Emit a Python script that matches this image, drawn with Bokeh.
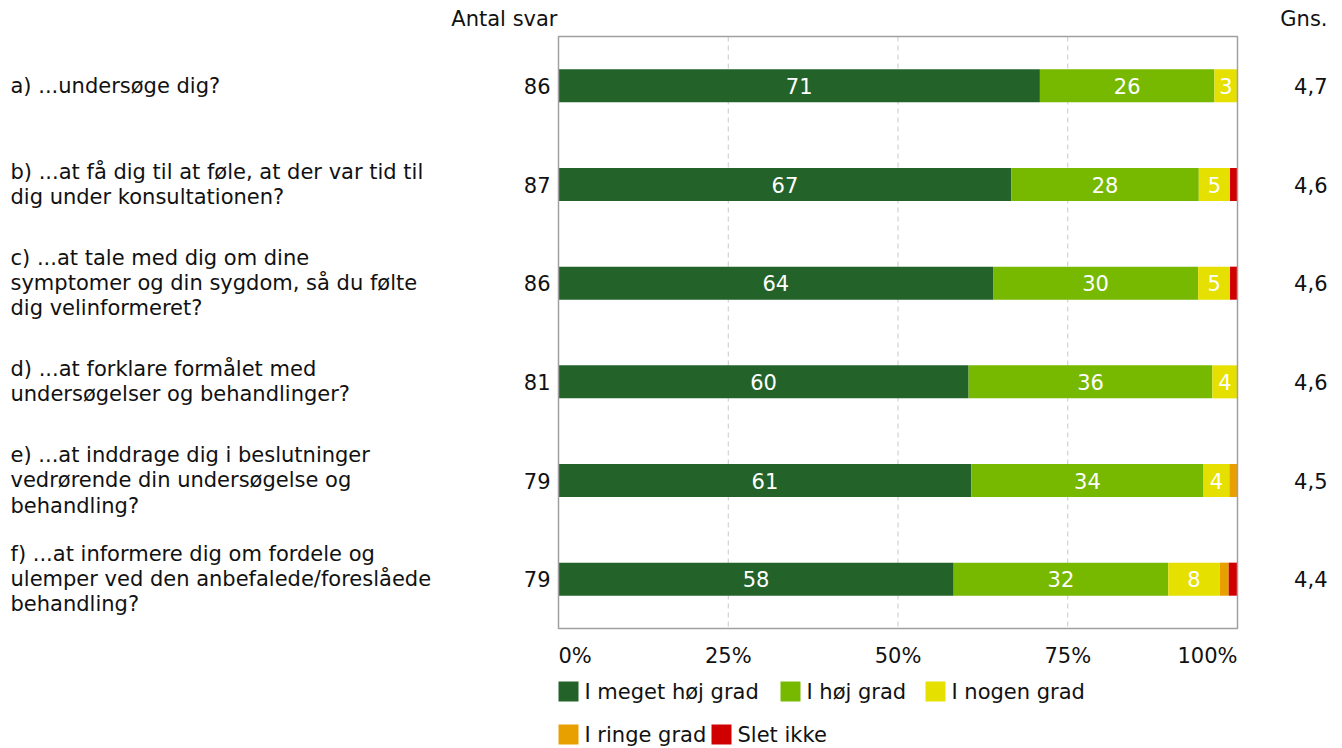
import numpy as np
from bokeh.plotting import figure
from bokeh.models import ColumnDataSource, Range1d
from bokeh.core.properties import value
from bokeh.embed import file_html
from bokeh.resources import INLINE

# ---------------- data ----------------
questions = [
    "a) ...undersøge dig?",
    "b) ...at få dig til at føle, at der var tid til\ndig under konsultationen?",
    "c) ...at tale med dig om dine\nsymptomer og din sygdom, så du følte\ndig velinformeret?",
    "d) ...at forklare formålet med\nundersøgelser og behandlinger?",
    "e) ...at inddrage dig i beslutninger\nvedrørende din undersøgelse og\nbehandling?",
    "f) ...at informere dig om fordele og\nulemper ved den anbefalede/foreslåede\nbehandling?",
]
antal_svar = [86, 87, 86, 81, 79, 79]
gns = [4.7, 4.6, 4.6, 4.6, 4.5, 4.4]

series_names = ["I meget høj grad", "I høj grad", "I nogen grad", "I ringe grad", "Slet ikke"]
meget_hoej = [70.9, 66.7, 64.0, 60.4, 60.8, 58.2]
hoej = [25.7, 27.6, 30.2, 35.9, 34.2, 31.6]
nogen = [3.4, 4.6, 4.7, 3.7, 3.8, 7.6]
ringe = [0.0, 0.0, 0.0, 0.0, 1.2, 1.3]
slet_ikke = [0.0, 1.1, 1.1, 0.0, 0.0, 1.3]
series_values = [meget_hoej, hoej, nogen, ringe, slet_ikke]
colors = ["#23632a", "#76b900", "#e6e000", "#e8a000", "#d10000"]

tick_values = [0, 25, 50, 75, 100]
tick_labels = ["0%", "25%", "50%", "75%", "100%"]

# ---------------- layout helpers (page pixel -> data) ----------------
ORIGIN = 0        # canvas sits at page (0, 0)
W, H = 1340, 746
K = 6.79          # px per percent
X0 = 558          # page x of 0%
TOP, BOT = 36, 628
S = (BOT - TOP) / len(questions)

def px2x(px):
    return (px - X0) / K

def px2y(py):
    return -0.5 + (py - TOP) / S

p = figure(width=W, height=H, output_backend="svg", toolbar_location=None,
           x_range=Range1d(px2x(ORIGIN), px2x(ORIGIN + W)),
           y_range=Range1d(px2y(ORIGIN + H), px2y(ORIGIN)),
           x_axis_type=None, y_axis_type=None, min_border=0)
p.outline_line_color = None
p.xgrid.visible = False
p.ygrid.visible = False
p.background_fill_color = "white"
p.border_fill_color = "white"

FONT = value("DejaVu Sans")
FS = "21px"
TXT = "#111111"
n = len(questions)
rows = np.arange(n)

# gridlines
p.segment(x0=tick_values[1:-1], x1=tick_values[1:-1], y0=[-0.5] * 3, y1=[n - 0.5] * 3,
          line_color="#c8c8c8", line_width=1, line_dash="5 4")

# bars
left = np.zeros(n)
lab_x, lab_y, lab_t = [], [], []
for name, vals, col in zip(series_names, series_values, colors):
    v = np.array(vals, dtype=float)
    src = ColumnDataSource(dict(y=rows, left=left.copy(), right=left + v))
    p.hbar(y="y", left="left", right="right", height=0.335, source=src,
           fill_color=col, line_color=None)
    for i in range(n):
        if v[i] >= 2.5:
            lab_x.append(left[i] + v[i] / 2)
            lab_y.append(i)
            lab_t.append(str(int(v[i] + 0.5)))
    left = left + v

p.text(x=lab_x, y=lab_y, text=lab_t, text_color="white", text_font=FONT,
       text_font_size=FS, text_align="center", text_baseline="middle")

# frame
p.quad(left=[0], right=[100], bottom=[n - 0.5], top=[-0.5], fill_color=None,
       line_color="#a0a0a0", line_width=1.5)

# category labels
p.text(x=[px2x(10)] * n, y=rows, text=questions, text_font=FONT, text_font_size=FS,
       text_align="left", text_baseline="middle", text_line_height=1.05, text_color=TXT)

# counts and averages
p.text(x=[px2x(550)] * n, y=rows, text=[str(c) for c in antal_svar], text_font=FONT,
       text_font_size=FS, text_align="right", text_baseline="middle", text_color=TXT)
p.text(x=[px2x(1327)] * n, y=rows, text=[f"{g:.1f}".replace(".", ",") for g in gns],
       text_font=FONT, text_font_size=FS, text_align="right", text_baseline="middle",
       text_color=TXT)

# headers
p.text(x=[px2x(557), px2x(1327)], y=[px2y(18)] * 2, text=["Antal svar", "Gns."],
       text_font=FONT, text_font_size=FS, text_align="right", text_baseline="middle",
       text_color=TXT)

# x tick labels
p.text(x=tick_values, y=[px2y(655)] * len(tick_values), text=tick_labels,
       text_font=FONT, text_font_size=FS,
       text_align=["left", "center", "center", "center", "right"],
       text_baseline="middle", text_color=TXT)

# legend (manual, flowing in two rows)
leg_sq_px = [(558, 691), (780, 691), (925, 691), (558, 734), (711, 734)]
p.rect(x=[px2x(x + 10) for x, _ in leg_sq_px], y=[px2y(y) for _, y in leg_sq_px],
       width=20, height=20, width_units="screen", height_units="screen",
       fill_color=colors, line_color=None)
p.text(x=[px2x(x + 26) for x, _ in leg_sq_px], y=[px2y(y) for _, y in leg_sq_px],
       text=series_names, text_font=FONT, text_font_size=FS, text_align="left",
       text_baseline="middle", text_color=TXT)

open("out.html", "w").write(file_html(p, INLINE))
